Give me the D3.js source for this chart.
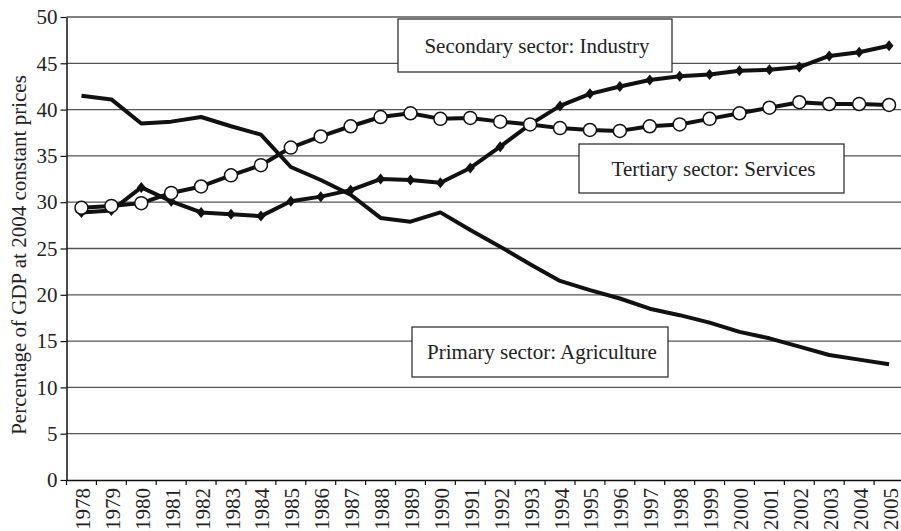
<!DOCTYPE html>
<html>
<head>
<meta charset="utf-8">
<script src="https://cdn.jsdelivr.net/npm/d3@7"></script>
<style>
  body { margin: 0; background: #fff; }
  text { font-family: "Liberation Serif", "Times New Roman", serif; fill: #222; }
</style>
</head>
<body>
<div id="chart"></div>
<script>
// Chart data
var years = [1978, 1979, 1980, 1981, 1982, 1983, 1984, 1985, 1986, 1987,
             1988, 1989, 1990, 1991, 1992, 1993, 1994, 1995, 1996, 1997,
             1998, 1999, 2000, 2001, 2002, 2003, 2004, 2005];

var primary = [41.5, 41.1, 38.5, 38.7, 39.2, 38.2, 37.3, 33.8, 32.4, 30.8,
               28.3, 27.9, 28.9, 27.0, 25.2, 23.3, 21.5, 20.5, 19.6, 18.5,
               17.8, 17.0, 16.0, 15.3, 14.4, 13.5, 13.0, 12.5];

var secondary = [28.9, 29.1, 31.6, 30.1, 28.9, 28.7, 28.5, 30.1, 30.6, 31.3,
                 32.5, 32.4, 32.1, 33.7, 36.0, 38.4, 40.4, 41.7, 42.5, 43.2,
                 43.6, 43.8, 44.2, 44.3, 44.6, 45.8, 46.2, 46.9];

var tertiary = [29.4, 29.6, 29.9, 31.0, 31.7, 32.9, 34.0, 35.9, 37.1, 38.2,
                39.2, 39.6, 39.0, 39.1, 38.7, 38.4, 38.0, 37.8, 37.7, 38.2,
                38.4, 39.0, 39.6, 40.2, 40.8, 40.6, 40.6, 40.5];

var yTicks = [0, 5, 10, 15, 20, 25, 30, 35, 40, 45, 50];

var labelPrimary = "Primary sector: Agriculture";
var labelSecondary = "Secondary sector: Industry";
var labelTertiary = "Tertiary sector: Services";
var yTitle = "Percentage of GDP at 2004 constant prices";

// Size of the page and of the plot area
var width = 901;
var height = 531;
var plotLeft = 66.5, plotRight = 904, plotTop = 17, plotBottom = 480;

var svg = d3.select("#chart")
            .append("svg")
            .attr("width", width)
            .attr("height", height);

// Scales
var x = d3.scaleBand()
          .domain(years)
          .range([plotLeft, plotRight])
          .padding(0);

var y = d3.scaleLinear()
          .domain([0, 50])
          .range([plotBottom, plotTop]);

function cx(d, i) { return x(years[i]) + x.bandwidth() / 2; }

// Horizontal gridlines
svg.append("g")
   .selectAll("line")
   .data(yTicks.slice(1))
   .enter()
   .append("line")
   .attr("x1", plotLeft)
   .attr("x2", width)
   .attr("y1", function(d){ return y(d); })
   .attr("y2", function(d){ return y(d); })
   .style("stroke", "#555")
   .style("stroke-width", 1.3);

// Y axis
var yAxis = svg.append("g")
               .attr("transform", "translate(" + plotLeft + ",0)")
               .call(d3.axisLeft(y).tickValues(yTicks).tickSize(6).tickPadding(3).tickSizeOuter(0));
yAxis.select(".domain").style("stroke", "#111").style("stroke-width", 1.5);
yAxis.selectAll(".tick line").style("stroke", "#111").style("stroke-width", 1.2);
yAxis.selectAll("text")
     .style("font-size", "21px")
     .style("font-family", "Liberation Serif")
     .attr("fill", "#222");

// X axis: labels in the middle of each year, ticks between years
var xAxis = svg.append("g")
               .attr("transform", "translate(0," + plotBottom + ")")
               .call(d3.axisBottom(x).tickSize(0).tickSizeOuter(0));
xAxis.select(".domain").style("stroke", "#111").style("stroke-width", 1.5);
xAxis.selectAll("text")
     .style("font-size", "21px")
     .style("font-family", "Liberation Serif")
     .attr("fill", "#222")
     .attr("text-anchor", "end")
     .attr("x", 0)
     .attr("y", 0)
     .attr("dy", 0)
     .attr("transform", "translate(8.5,8) rotate(-90)");

svg.append("g")
   .selectAll("line")
   .data(years.concat(["end"]))
   .enter()
   .append("line")
   .attr("x1", function(d, i){ return plotLeft + i * x.bandwidth(); })
   .attr("x2", function(d, i){ return plotLeft + i * x.bandwidth(); })
   .attr("y1", plotBottom)
   .attr("y2", plotBottom + 5)
   .style("stroke", "#111")
   .style("stroke-width", 1.2);

// Y axis title
svg.append("text")
   .attr("transform", "translate(26,255) rotate(-90)")
   .attr("text-anchor", "middle")
   .style("font-size", "21px")
   .text(yTitle);

// Lines
var line = d3.line()
             .x(cx)
             .y(function(d){ return y(d); });

[primary, secondary, tertiary].forEach(function(series){
  svg.append("path")
     .datum(series)
     .attr("d", line)
     .style("fill", "none")
     .style("stroke", "#111")
     .style("stroke-width", 4)
     .style("stroke-linejoin", "round");
});

// Diamonds for industry
var diamond = {
  draw: function(ctx, size){
    ctx.moveTo(0, -5.5);
    ctx.lineTo(4.5, 0);
    ctx.lineTo(0, 5.5);
    ctx.lineTo(-4.5, 0);
    ctx.closePath();
  }
};

svg.append("g")
   .selectAll("path")
   .data(secondary)
   .enter()
   .append("path")
   .attr("d", d3.symbol().type(diamond))
   .attr("transform", function(d, i){ return "translate(" + cx(d, i) + "," + y(d) + ")"; })
   .style("fill", "#111");

// Open circles for services
svg.append("g")
   .selectAll("circle")
   .data(tertiary)
   .enter()
   .append("circle")
   .attr("cx", cx)
   .attr("cy", function(d){ return y(d); })
   .attr("r", 6.5)
   .style("fill", "#fff")
   .style("stroke", "#111")
   .style("stroke-width", 1.5);

// Label boxes
var boxes = [
  {text: labelSecondary, x0: 398, y0: 19, x1: 672, y1: 72},
  {text: labelTertiary, x0: 579, y0: 144, x1: 844, y1: 193},
  {text: labelPrimary, x0: 412, y0: 327, x1: 668, y1: 377}
];

boxes.forEach(function(b){
  svg.append("rect")
     .attr("x", b.x0)
     .attr("y", b.y0)
     .attr("width", b.x1 - b.x0)
     .attr("height", b.y1 - b.y0)
     .style("fill", "#fff")
     .style("stroke", "#222")
     .style("stroke-width", 1.2);
  svg.append("text")
     .attr("x", (b.x0 + b.x1) / 2 + 2)
     .attr("y", (b.y0 + b.y1) / 2 + 7)
     .attr("text-anchor", "middle")
     .style("font-size", "21px")
     .text(b.text);
});
</script>
</body>
</html>
